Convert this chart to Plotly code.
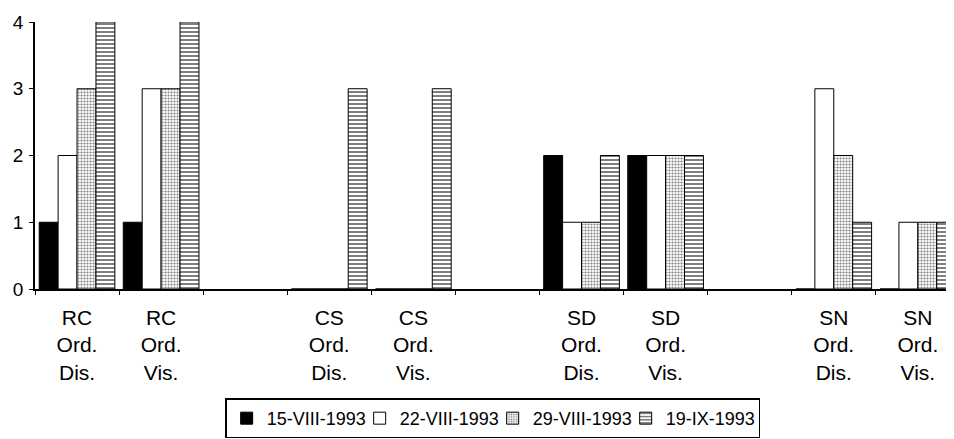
import plotly.graph_objects as go

categories = ["RC<br>Ord.<br>Dis.", "RC<br>Ord.<br>Vis.", " ",
              "CS<br>Ord.<br>Dis.", "CS<br>Ord.<br>Vis.", "  ",
              "SD<br>Ord.<br>Dis.", "SD<br>Ord.<br>Vis.", "   ",
              "SN<br>Ord.<br>Dis.", "SN<br>Ord.<br>Vis."]

series_names = ["15-VIII-1993", "22-VIII-1993", "29-VIII-1993", "19-IX-1993"]
v_15_viii = [1, 1, None, 0, 0, None, 2, 2, None, 0, 0]
v_22_viii = [2, 3, None, 0, 0, None, 1, 2, None, 3, 1]
v_29_viii = [3, 3, None, 0, 0, None, 1, 2, None, 2, 1]
v_19_ix = [4, 4, None, 3, 3, None, 2, 2, None, 1, 1]

y_ticks = [0, 1, 2, 3, 4]

styles = [
    dict(color="black", pattern=dict(shape="")),
    dict(color="white", pattern=dict(shape="")),
    dict(color="white", pattern=dict(shape=".", size=3, solidity=0.4, fgcolor="black", bgcolor="white", fillmode="overlay")),
    dict(color="white", pattern=dict(shape="-", size=4, solidity=0.5, fgcolor="black", bgcolor="white", fillmode="overlay")),
]

fig = go.Figure()
for name, vals, st in zip(series_names, [v_15_viii, v_22_viii, v_29_viii, v_19_ix], styles):
    fig.add_trace(go.Bar(
        x=categories, y=vals, name=name,
        marker=dict(color=st["color"], pattern=st["pattern"], line=dict(color="black", width=1)),
    ))

x_range = [-0.5, 10.43]
boundaries = [i - 0.5 for i in range(len(categories) + 1)]

font = "Liberation Sans, Arial, Helvetica, sans-serif"
fig.update_layout(
    width=946, height=431,
    margin=dict(l=27, r=0, t=14, b=147),
    paper_bgcolor="white", plot_bgcolor="white",
    barmode="group", bargap=0.1, bargroupgap=0,
    font=dict(family=font, color="black", size=17),
    showlegend=True,
    legend=dict(orientation="h", x=0.498, xanchor="center", y=-0.41, yanchor="top",
                bordercolor="black", borderwidth=1.5, font=dict(size=18),
                itemwidth=30, entrywidth=88, traceorder="normal"),
    xaxis=dict(type="category", range=x_range, showline=True, linecolor="black", linewidth=1.5,
               ticks="outside", ticklen=4, tickcolor="black", tickson="boundaries",
               showgrid=False, zeroline=False, tickfont=dict(size=21), tickangle=0,
               automargin=False, ticklabelstandoff=9),
    xaxis2=dict(overlaying="x", anchor="y", side="bottom", range=x_range, tickvals=boundaries,
                ticks="inside", ticklen=4, tickcolor="black", showticklabels=False,
                showgrid=False, zeroline=False, showline=False, automargin=False),
    yaxis=dict(range=[0, 4], tickvals=y_ticks, showline=True, linecolor="black", linewidth=1.5,
               ticks="outside", ticklen=4, tickcolor="black", showgrid=False, zeroline=False,
               tickfont=dict(size=19), automargin=False, ticklabelstandoff=2),
    yaxis2=dict(overlaying="y", anchor="x", side="left", range=[0, 4], tickvals=y_ticks,
                ticks="inside", ticklen=4, tickcolor="black", showticklabels=False,
                showgrid=False, zeroline=False, showline=False, automargin=False),
)

fig.write_html("out.html")
